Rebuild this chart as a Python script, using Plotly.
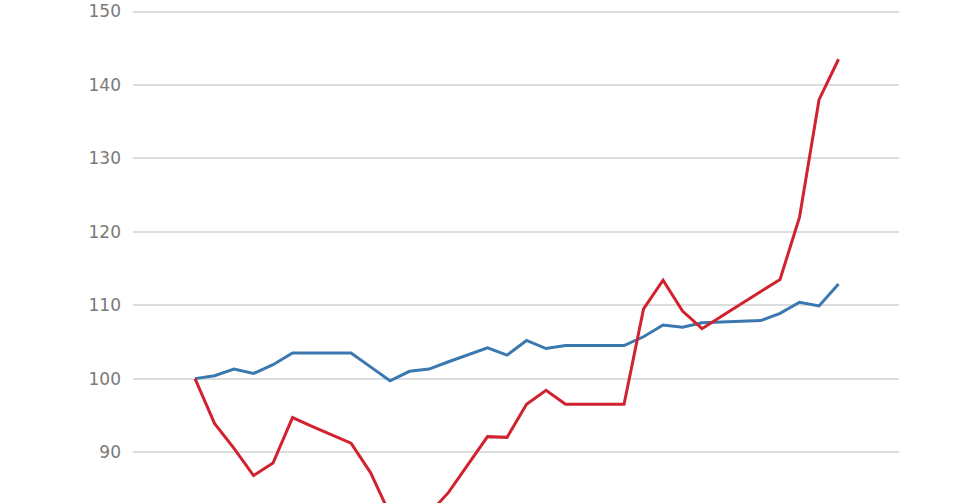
import plotly.graph_objects as go

periods = list(range(34))

blue_values = [100.0, 100.4, 101.3, 100.7, 101.9, 103.5, 103.5, 103.5, 103.5, 101.6,
               99.7, 101.0, 101.3, 102.3, 103.3, 104.2, 103.2, 105.2, 104.1, 104.5,
               104.5, 104.5, 104.5, 105.7, 107.3, 107.0, 107.6, 107.7, 107.8, 107.9,
               108.9, 110.4, 109.9, 112.9]

red_values = [100.0, 93.9, 90.5, 86.8, 88.5, 94.7, 93.5, 92.4, 91.2, 87.2,
              81.5, 80.3, 81.6, 84.5, 88.3, 92.1, 92.0, 96.5, 98.4, 96.5,
              96.5, 96.5, 96.5, 109.5, 113.4, 109.2, 106.8, 108.5, 110.2, 111.8,
              113.5, 122.0, 138.0, 143.5]

y_ticks = [90, 100, 110, 120, 130, 140, 150]

fig = go.Figure()
fig.add_trace(go.Scatter(x=periods, y=blue_values, mode="lines",
                         line=dict(color="#3b78b0", width=3), name="blue"))
fig.add_trace(go.Scatter(x=periods, y=red_values, mode="lines",
                         line=dict(color="#d1222f", width=3), name="red"))

fig.update_layout(
    width=962, height=503,
    margin=dict(l=133, r=63, t=0, b=0),
    paper_bgcolor="white", plot_bgcolor="white",
    showlegend=False,
    font=dict(family="DejaVu Sans", size=17, color="#7a7a7a"),
    xaxis=dict(range=[-3.18, 36.1], showgrid=False, zeroline=False,
               showticklabels=False, showline=False, ticks=""),
    yaxis=dict(range=[83.06, 151.57], tickvals=y_ticks,
               ticktext=[str(v) for v in y_ticks],
               showgrid=True, gridcolor="#dddddd", gridwidth=1.5,
               zeroline=False, showline=False, ticks="",
               ticklabelstandoff=11),
)

fig.write_html("out.html",
               config={"displayModeBar": False},
               post_script="document.body.style.margin='0';document.body.style.overflow='hidden';")
